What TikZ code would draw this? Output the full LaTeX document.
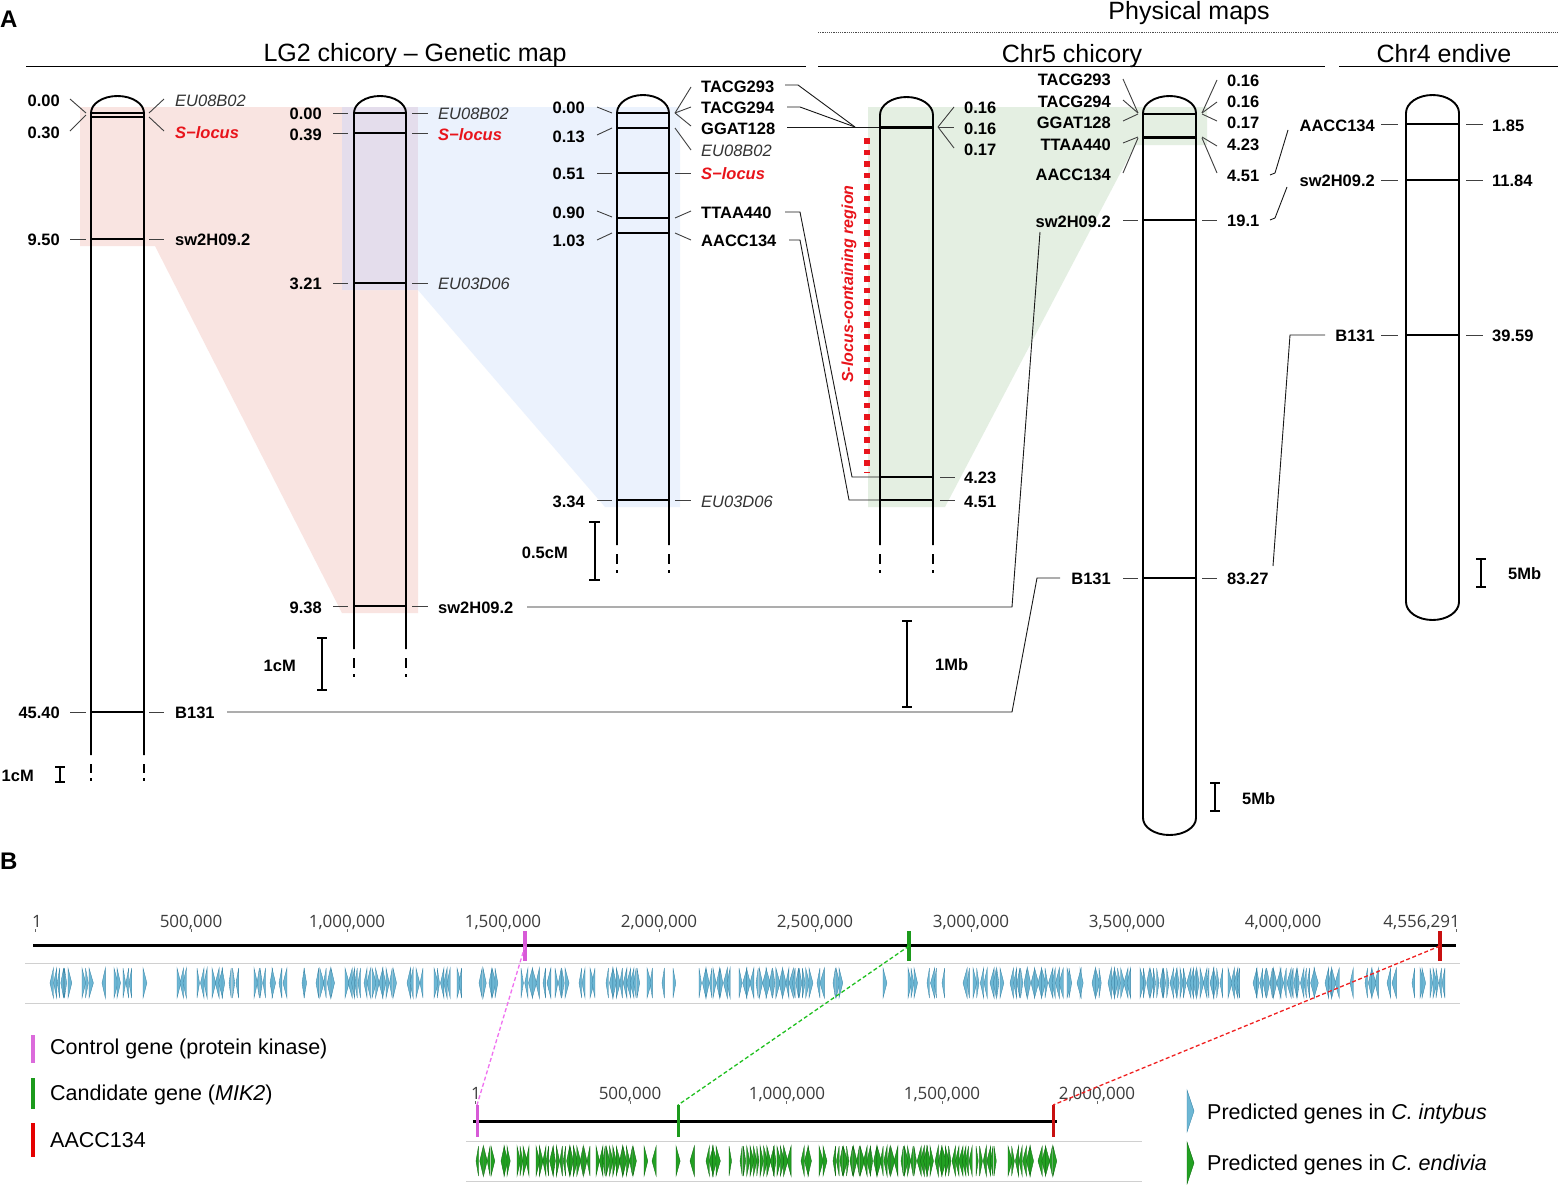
\documentclass[tikz,border=0pt]{standalone}
\usepackage{fontspec}
\setmainfont{Liberation Sans}
\newfontfamily\rulerfont{Open Sans}
\definecolor{pinkbg}{HTML}{F9E4E1}
\definecolor{bluebg}{HTML}{EBF2FD}
\definecolor{lavbg}{HTML}{E4DDEC}
\definecolor{greenbg}{HTML}{E4EFE2}
\definecolor{slred}{HTML}{E8141B}
\definecolor{genblue}{HTML}{6DB7D4}
\definecolor{genblueD}{HTML}{3A86A8}
\definecolor{gengreen}{HTML}{22A022}
\definecolor{gengreenD}{HTML}{0E6A10}
\definecolor{mkpink}{HTML}{D75AD7}
\definecolor{mkgreen}{HTML}{1C9A1C}
\definecolor{mkred}{HTML}{C81010}
\definecolor{dpink}{HTML}{F070F0}
\definecolor{dgreen}{HTML}{20C020}
\definecolor{dred}{HTML}{F02020}
\definecolor{trackgray}{HTML}{D0D0D0}
\definecolor{rulertext}{HTML}{3C3C3C}
\newcommand{\genetrack}[4]{%
  \foreach \ga/\gb in {#1} {%
    \pgfmathtruncatemacro\gn{max(0,round((\gb-\ga-3)/3.4))}%
    \pgfmathsetmacro\gs{(\gb-\ga-3)/max(\gn,1)}%
    \foreach \gi in {0,...,\gn} {%
      \pgfmathsetmacro\gx{\ga+\gi*\gs}%
      \pgfmathsetmacro\gw{2.2+2.2*rnd}%
      \pgfmathrandominteger{\gd}{0}{1}%
      \ifnum\gd=0
        \filldraw[#4] (\gx,#2) -- (\gx+\gw,{(#2+#3)/2}) -- (\gx,#3) -- cycle;
      \else
        \filldraw[#4] (\gx+\gw,#2) -- (\gx,{(#2+#3)/2}) -- (\gx+\gw,#3) -- cycle;
      \fi
    }%
  }%
}
\begin{document}
\begin{tikzpicture}[x=1pt,y=-1pt,
  chrom/.style={line width=1.9pt},
  mk/.style={line width=1.4pt},
  tmk/.style={line width=3pt},
  tk/.style={line width=0.9pt,draw=black!75},
  cn/.style={line width=0.9pt,draw=black!90},
  num/.style={font=\fontsize{16.5}{18}\selectfont\bfseries,inner sep=0pt,yshift=-3.5pt},
  itn/.style={font=\fontsize{16.5}{18}\selectfont\itshape,text=black!80,inner sep=0pt,yshift=-3.5pt},
  sloc/.style={font=\fontsize{16.5}{18}\selectfont\bfseries\itshape,text=slred,inner sep=0pt,yshift=-3.5pt},
  ttl/.style={font=\fontsize{25}{28}\selectfont,inner sep=0pt,anchor=base},
  panel/.style={font=\fontsize{24}{26}\selectfont\bfseries,inner sep=0pt,anchor=base west},
  sbar/.style={line width=2pt},
  rl/.style={font=\rulerfont\fontsize{17}{19}\selectfont,text=rulertext,inner sep=0pt,yshift=-3.5pt},
  lg/.style={font=\fontsize{21.5}{24}\selectfont,inner sep=0pt,anchor=mid west,yshift=-3.8pt},
  bluegene/.style={fill=genblue,draw=genblueD,line width=0.35pt},
  greengene/.style={fill=gengreen,draw=gengreenD,line width=0.35pt},
]
\useasboundingbox (0,0) rectangle (1561,1184);
\fill[white] (0,0) rectangle (1561,1184);

% ---------- shaded regions ----------
\fill[pinkbg] (80,107) -- (418,107) -- (418,613) -- (342,613) -- (155,246) -- (80,246) -- cycle;
\fill[bluebg] (342,107) -- (680,107) -- (680,507) -- (605,507) -- (418,290) -- (342,290) -- cycle;
\fill[lavbg] (342,107) rectangle (418,290);
\fill[greenbg] (868,107) -- (1207,107) -- (1207,145) -- (1135,145) -- (945,507) -- (868,507) -- cycle;

% ---------- titles ----------
\node[panel] (pA) at (0,27) {A};
\node[ttl] (tLG) at (415,61) {LG2 chicory – Genetic map};
\draw[line width=1pt] (26,66) -- (806,66);
\node[ttl] (tPM) at (1189,19) {Physical maps};
\draw[line width=0.8pt,black!70,dash pattern=on 1.2pt off 1pt] (818,32) -- (1558,32);
\node[ttl] (tC5) at (1072,62) {Chr5 chicory};
\draw[line width=1pt] (818,66) -- (1325,66);
\node[ttl] (tC4) at (1444,62) {Chr4 endive};
\draw[line width=1pt] (1339,66) -- (1558,66);

% ---------- chromosome 1 ----------
\draw[chrom] (91,755) -- (91,113) arc[start angle=180,end angle=0,x radius=26.5pt,y radius=17pt] -- (144,755);
\foreach \x in {91,144} {\draw[chrom] (\x,764) -- (\x,773); \draw[chrom] (\x,778) -- (\x,781);}
\foreach \y in {113,117,239,712} {\draw[mk] (91,\y) -- (144,\y);}
\node[num,anchor=mid east] (c1a) at (60,100) {0.00};
\node[num,anchor=mid east] (c1b) at (60,132) {0.30};
\node[num,anchor=mid east] (c1c) at (60,239) {9.50};
\node[num,anchor=mid east] (c1d) at (60,712) {45.40};
\node[itn,anchor=mid west] (m1a) at (175,100) {EU08B02};
\node[sloc,anchor=mid west] (m1b) at (175,132) {S−locus};
\node[num,anchor=mid west] (m1c) at (175,239) {sw2H09.2};
\node[num,anchor=mid west] (m1d) at (175,712) {B131};
\draw[tk] (70,99) -- (86,113);
\draw[tk] (70,131) -- (86,115);
\draw[tk] (149,113) -- (164,99);
\draw[tk] (149,117) -- (164,131);
\draw[tk] (70,239) -- (86,239);
\draw[tk] (149,239) -- (164,239);
\draw[tk] (70,712) -- (86,712);
\draw[tk] (149,712) -- (164,712);
\draw[sbar] (55,767) -- (65,767) (60,767) -- (60,782) (55,782) -- (65,782);
\node[num,anchor=mid east] (s1) at (34,775) {1cM};

% ---------- chromosome 2 ----------
\draw[chrom] (354,649) -- (354,113) arc[start angle=180,end angle=0,x radius=26pt,y radius=17pt] -- (406,649);
\foreach \x in {354,406} {\draw[chrom] (\x,658) -- (\x,668); \draw[chrom] (\x,674) -- (\x,677);}
\foreach \y in {113,133,283,606} {\draw[mk] (354,\y) -- (406,\y); \draw[tk] (333,\y) -- (348,\y); \draw[tk] (412,\y) -- (428,\y);}
\node[num,anchor=mid east] (c2a) at (322,113) {0.00};
\node[num,anchor=mid east] (c2b) at (322,134) {0.39};
\node[num,anchor=mid east] (c2c) at (322,283) {3.21};
\node[num,anchor=mid east] (c2d) at (322,607) {9.38};
\node[itn,anchor=mid west] (m2a) at (438,113) {EU08B02};
\node[sloc,anchor=mid west] (m2b) at (438,134) {S−locus};
\node[itn,anchor=mid west] (m2c) at (438,283) {EU03D06};
\node[num,anchor=mid west] (m2d) at (438,607) {sw2H09.2};
\draw[sbar] (317,638) -- (327,638) (322,638) -- (322,690) (317,690) -- (327,690);
\node[num,anchor=mid east] (s2) at (296,665) {1cM};

% ---------- chromosome 3 ----------
\draw[chrom] (617,545) -- (617,113) arc[start angle=180,end angle=0,x radius=26pt,y radius=18pt] -- (669,545);
\foreach \x in {617,669} {\draw[chrom] (\x,554) -- (\x,564); \draw[chrom] (\x,570) -- (\x,573);}
\foreach \y in {113,128,173,218,233,500} {\draw[mk] (617,\y) -- (669,\y);}
\node[num,anchor=mid east] (c3a) at (585,107) {0.00};
\node[num,anchor=mid east] (c3b) at (585,136) {0.13};
\node[num,anchor=mid east] (c3c) at (585,173) {0.51};
\node[num,anchor=mid east] (c3d) at (585,212) {0.90};
\node[num,anchor=mid east] (c3e) at (585,240) {1.03};
\node[num,anchor=mid east] (c3f) at (585,501) {3.34};
\draw[tk] (597,107) -- (612,113);
\draw[tk] (597,135) -- (612,128);
\draw[tk] (597,173) -- (612,173);
\draw[tk] (597,211) -- (612,217);
\draw[tk] (597,240) -- (612,233);
\draw[tk] (597,500) -- (612,500);
\node[num,anchor=mid west] (m3a) at (701,86) {TACG293};
\node[num,anchor=mid west] (m3b) at (701,107) {TACG294};
\node[num,anchor=mid west] (m3c) at (701,128) {GGAT128};
\node[itn,anchor=mid west] (m3d) at (701,150) {EU08B02};
\node[sloc,anchor=mid west] (m3e) at (701,173) {S−locus};
\node[num,anchor=mid west] (m3f) at (701,212) {TTAA440};
\node[num,anchor=mid west] (m3g) at (701,240) {AACC134};
\node[itn,anchor=mid west] (m3h) at (701,501) {EU03D06};
\draw[tk] (675,113) -- (691,87);
\draw[tk] (675,113) -- (691,107);
\draw[tk] (675,113) -- (691,126);
\draw[tk] (675,128) -- (691,150);
\draw[tk] (675,173) -- (691,173);
\draw[tk] (675,218) -- (691,211);
\draw[tk] (675,233) -- (691,240);
\draw[tk] (675,500) -- (691,500);
\draw[sbar] (589,522) -- (600,522) (594.5,522) -- (594.5,580) (589,580) -- (600,580);
\node[num,anchor=mid east] (s3) at (568,552) {0.5cM};

% ---------- connections chrom3 -> chrom4 ----------
\draw[cn] (785,85) -- (798,85) -- (855,127);
\draw[cn] (787,107) -- (800,107) -- (855,127);
\draw[cn] (787,127) -- (880,127);
\draw[cn] (785,212) -- (800,212) -- (852,477) -- (880,477);
\draw[cn] (789,240) -- (800,240) -- (849,500) -- (880,500);

% ---------- chromosome 4 (Chr5 zoom) ----------
\draw[chrom] (880,545) -- (880,115) arc[start angle=180,end angle=0,x radius=26.5pt,y radius=18pt] -- (933,545);
\foreach \x in {880,933} {\draw[chrom] (\x,554) -- (\x,564); \draw[chrom] (\x,570) -- (\x,573);}
\draw[tmk] (880,127) -- (933,127);
\draw[mk] (880,477) -- (933,477);
\draw[mk] (880,500) -- (933,500);
\draw[tk] (938,127) -- (954,107);
\draw[tk] (938,127) -- (954,127);
\draw[tk] (938,127) -- (954,148);
\draw[tk] (940,477) -- (955,477);
\draw[tk] (940,500) -- (955,500);
\node[num,anchor=mid west] (c4a) at (964,107) {0.16};
\node[num,anchor=mid west] (c4b) at (964,128) {0.16};
\node[num,anchor=mid west] (c4c) at (964,149) {0.17};
\node[num,anchor=mid west] (c4d) at (964,477) {4.23};
\node[num,anchor=mid west] (c4e) at (964,501) {4.51};
\draw[slred,line width=6pt,dash pattern=on 5.5pt off 6pt] (867,138) -- (867,472);
\node[font=\fontsize{16}{18}\selectfont\bfseries\itshape,text=slred,inner sep=0pt,rotate=90] (slr) at (849,284) {S-locus-containing region};
\draw[sbar] (902,621) -- (912,621) (907,621) -- (907,707) (902,707) -- (912,707);
\node[num,anchor=mid west] (s4) at (935,664) {1Mb};

% ---------- long connections to Chr5 ----------
\draw[cn] (527,607) -- (1012,607) -- (1040,232);
\draw[cn] (227,712) -- (1012,712) -- (1037,578) -- (1060,578);

% ---------- chromosome 5 (Chr5 full) ----------
\draw[chrom] (1143,818) -- (1143,113) arc[start angle=180,end angle=0,x radius=26.5pt,y radius=17pt] -- (1196,818) arc[start angle=0,end angle=-180,x radius=26.5pt,y radius=17pt] -- cycle;
\draw[mk] (1143,114) -- (1196,114);
\draw[tmk] (1143,137) -- (1196,137);
\draw[mk] (1143,220) -- (1196,220);
\draw[mk] (1143,578) -- (1196,578);
\node[num,anchor=mid east] (c5a) at (1111,79) {TACG293};
\node[num,anchor=mid east] (c5b) at (1111,101) {TACG294};
\node[num,anchor=mid east] (c5c) at (1111,122) {GGAT128};
\node[num,anchor=mid east] (c5d) at (1111,144) {TTAA440};
\node[num,anchor=mid east] (c5e) at (1111,174) {AACC134};
\node[num,anchor=mid east] (c5f) at (1111,221) {sw2H09.2};
\node[num,anchor=mid east] (c5g) at (1111,578) {B131};
\draw[tk] (1123,79) -- (1138,113);
\draw[tk] (1123,100) -- (1138,113);
\draw[tk] (1123,121) -- (1138,114);
\draw[tk] (1123,143) -- (1138,137);
\draw[tk] (1123,173) -- (1138,138);
\draw[tk] (1123,220) -- (1138,220);
\draw[tk] (1123,578) -- (1138,578);
\node[num,anchor=mid west] (p5a) at (1227,80) {0.16};
\node[num,anchor=mid west] (p5b) at (1227,101) {0.16};
\node[num,anchor=mid west] (p5c) at (1227,122) {0.17};
\node[num,anchor=mid west] (p5d) at (1227,144) {4.23};
\node[num,anchor=mid west] (p5e) at (1227,175) {4.51};
\node[num,anchor=mid west] (p5f) at (1227,220) {19.1};
\node[num,anchor=mid west] (p5g) at (1227,578) {83.27};
\draw[tk] (1202,113) -- (1217,80);
\draw[tk] (1202,113) -- (1217,102);
\draw[tk] (1202,114) -- (1217,121);
\draw[tk] (1202,137) -- (1217,146);
\draw[tk] (1202,138) -- (1217,173);
\draw[tk] (1202,220) -- (1217,220);
\draw[tk] (1202,578) -- (1217,578);
\draw[sbar] (1210,783) -- (1220,783) (1215,783) -- (1215,811) (1210,811) -- (1220,811);
\node[num,anchor=mid west] (s5) at (1242,798) {5Mb};

% ---------- connections Chr5 -> Chr4 endive ----------
\draw[cn] (1270,175) -- (1275,173) -- (1288,130);
\draw[cn] (1270,220) -- (1275,218) -- (1287,187);
\draw[cn] (1273,566) -- (1290,335) -- (1325,335);

% ---------- chromosome 6 (Chr4 endive) ----------
\draw[chrom] (1406,602) -- (1406,113) arc[start angle=180,end angle=0,x radius=26.5pt,y radius=18pt] -- (1459,602) arc[start angle=0,end angle=-180,x radius=26.5pt,y radius=18pt] -- cycle;
\foreach \y in {124,180,335} {\draw[mk] (1406,\y) -- (1459,\y); \draw[tk] (1381,\y) -- (1398,\y); \draw[tk] (1466,\y) -- (1483,\y);}
\node[num,anchor=mid east] (c6a) at (1375,125) {AACC134};
\node[num,anchor=mid east] (c6b) at (1375,180) {sw2H09.2};
\node[num,anchor=mid east] (c6c) at (1375,335) {B131};
\node[num,anchor=mid west] (p6a) at (1492,125) {1.85};
\node[num,anchor=mid west] (p6b) at (1492,180) {11.84};
\node[num,anchor=mid west] (p6c) at (1492,335) {39.59};
\draw[sbar] (1476,559) -- (1486,559) (1481,559) -- (1481,587) (1476,587) -- (1486,587);
\node[num,anchor=mid west] (s6) at (1508,573) {5Mb};

% ================= Panel B =================
\node[panel] (pB) at (0,869) {B};

% top ruler
\node[rl,anchor=mid] (r0) at (37,921) {1};
\node[rl,anchor=mid] (r1) at (191,921) {500,000};
\node[rl,anchor=mid] (r2) at (347,921) {1,000,000};
\node[rl,anchor=mid] (r3) at (503,921) {1,500,000};
\node[rl,anchor=mid] (r4) at (659,921) {2,000,000};
\node[rl,anchor=mid] (r5) at (815,921) {2,500,000};
\node[rl,anchor=mid] (r6) at (971,921) {3,000,000};
\node[rl,anchor=mid] (r7) at (1127,921) {3,500,000};
\node[rl,anchor=mid] (r8) at (1283,921) {4,000,000};
\node[rl,anchor=mid east] (r9) at (1460,921) {4,556,291};
\foreach \x in {35,191,347,503,659,815,971,1127,1283,1456} {\draw[black!60,line width=0.7pt] (\x,929) -- (\x,932);}
\draw[line width=3pt] (33,945) -- (1456,945);
\draw[trackgray,line width=1pt] (25,963) -- (1460,963) (25,1003) -- (1460,1003);
\genetrack{50/71,82/92,102/106,114/120,123/132,143/145,177/186,197/207,212/225,229/239,254/266,270/275,279/286,302/307,316/334,345/361,364/370,372/396,407/413,416/423,434/450,457/462,479/486,489/498,521/539,543/550,555/568,579/585,590/595,606/640,647/653,662/665,673/677,699/730,739/753,756/812,817/823,833/842,883/887,908/917,927/937,942/945,963/970,973/987,990/1003,1010/1062,1067/1072,1077/1083,1092/1102,1108/1130,1140/1223,1228/1240,1253/1317,1325/1338,1350/1353,1365/1378,1387/1395,1412/1415,1420/1425,1430/1445}{968}{998}{bluegene}

% bottom ruler
\node[rl,anchor=mid] (q0) at (476,1093) {1};
\node[rl,anchor=mid] (q1) at (630,1093) {500,000};
\node[rl,anchor=mid] (q2) at (787,1093) {1,000,000};
\node[rl,anchor=mid] (q3) at (942,1093) {1,500,000};
\node[rl,anchor=mid] (q4) at (1097,1093) {2,000,000};
\foreach \x in {475,630,786,942,1097} {\draw[black!60,line width=0.7pt] (\x,1101) -- (\x,1104);}
\draw[line width=3pt] (473,1121) -- (1057,1121);
\draw[trackgray,line width=1pt] (466,1141) -- (1142,1141) (466,1181) -- (1142,1181);
\genetrack{476/494,501/510,517/529,536/590,596/636,644/647,652/656,676/679,690/694,706/719,729/733,740/790,801/811,819/826,833/897,901/933,935/972,976/997,1008/1033,1038/1056}{1146}{1176}{greengene}

% markers
\coordinate (pk1) at (525,946); \coordinate (gk1) at (909,946); \coordinate (rk1) at (1440,946);
\coordinate (pk2) at (477,1105); \coordinate (gk2) at (678,1105); \coordinate (rk2) at (1053,1105);
\draw[mkpink,line width=3.5pt] (525,931) -- (525,961);
\draw[mkgreen,line width=3.5pt] (909,931) -- (909,961);
\draw[mkred,line width=3.5pt] (1440,931) -- (1440,961);
\draw[mkpink,line width=3pt] (477,1105) -- (477,1137);
\draw[mkgreen,line width=3pt] (678,1105) -- (678,1137);
\draw[mkred,line width=3pt] (1053,1105) -- (1053,1137);
\draw[dpink,line width=1.3pt,dash pattern=on 4pt off 2.5pt] (pk1) -- (pk2);
\draw[dgreen,line width=1.3pt,dash pattern=on 4pt off 2.5pt] (gk1) -- (gk2);
\draw[dred,line width=1.3pt,dash pattern=on 4pt off 2.5pt] (rk1) -- (rk2);

% legend left
\draw[mkpink!90,line width=4pt] (33,1035) -- (33,1063);
\draw[mkgreen,line width=4pt] (33,1078) -- (33,1109);
\draw[red!90!black,line width=4pt] (33,1123) -- (33,1157);
\node[lg] (l1) at (50,1048) {Control gene (protein kinase)};
\node[lg] (l2) at (50,1094) {Candidate gene (\textit{MIK2})};
\node[lg] (l3) at (50,1141) {AACC134};

% legend right
\filldraw[bluegene] (1187,1090) -- (1194,1111) -- (1187,1132) -- cycle;
\filldraw[greengene] (1187,1142) -- (1194,1163) -- (1187,1184) -- cycle;
\node[lg] (l4) at (1207,1113) {Predicted genes in \textit{C. intybus}};
\node[lg] (l5) at (1207,1164) {Predicted genes in \textit{C. endivia}};
\end{tikzpicture}
\end{document}
